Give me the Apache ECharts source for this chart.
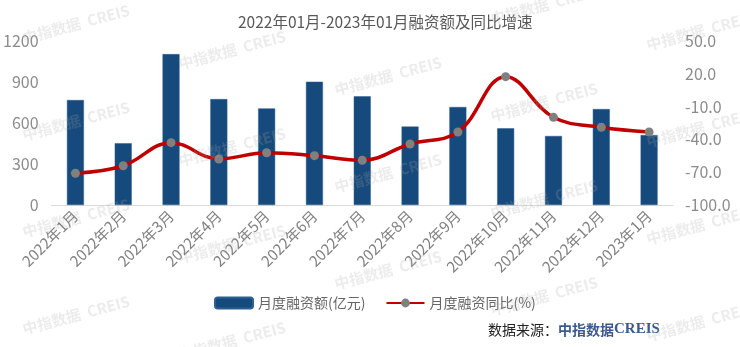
<!DOCTYPE html>
<html>
<head>
<meta charset="utf-8">
<script src="https://cdn.jsdelivr.net/npm/echarts@6/dist/echarts.min.js"></script>
<style>
html,body{margin:0;padding:0;background:#fff;}
#chart{width:740px;height:347px;}
</style>
</head>
<body>
<div id="chart"></div>
<script>
// ---- data ----
const categories = ['2022年1月','2022年2月','2022年3月','2022年4月','2022年5月','2022年6月','2022年7月','2022年8月','2022年9月','2022年10月','2022年11月','2022年12月','2023年1月'];
const financeAmount = [768, 452, 1104, 775, 707, 902, 795, 574, 717, 561, 505, 702, 512];
const yoyGrowth = [-71.0, -64.1, -43.0, -57.9, -52.2, -54.9, -59.1, -44.2, -33.2, 17.4, -19.8, -28.9, -33.2];
const leftTicks = [0, 300, 600, 900, 1200];
const rightTicks = [-100, -70, -40, -10, 20, 50];
const seriesNames = ['月度融资额(亿元)', '月度融资同比(%)'];
const titleText = '2022年01月-2023年01月融资额及同比增速';

const FONT = '"Noto Sans CJK SC", "Noto Sans", sans-serif';

// watermark texts (decoration)
const wm = [];
for (let c = 0; c < 5; c++) {
  for (let r = -1; r < 4; r++) {
    const x = 76 + 156 * c;
    const y = 24 + 26 * c + 97 * r;
    if (y < -20 || y > 370) continue;
    wm.push({
      type: 'text', x: x, y: y, rotation: 15 * Math.PI / 180, z: 100, silent: true,
      style: { text: '中指数据  CREIS', fill: 'rgba(170,170,170,0.22)', font: 'bold 15px ' + FONT, align: 'center', verticalAlign: 'middle' }
    });
  }
}

const chart = echarts.init(document.getElementById('chart'), null, {renderer: 'canvas'});
chart.setOption({
  animation: false,
  backgroundColor: '#fff',
  textStyle: { fontFamily: FONT },
  title: {
    text: titleText, left: 233, top: 9,
    textStyle: { fontSize: 15.5, fontWeight: 'normal', color: '#595959', fontFamily: FONT }
  },
  legend: {
    top: 291, left: 209, itemWidth: 38, itemHeight: 11, itemGap: 20,
    textStyle: { fontSize: 14, color: '#666666', fontFamily: FONT },
    data: seriesNames
  },
  grid: { left: 48, right: 67, top: 41, bottom: 142, containLabel: false },
  xAxis: {
    type: 'category', data: categories,
    axisTick: { show: false },
    axisLine: { lineStyle: { color: '#d9d9d9', width: 1 } },
    axisLabel: { rotate: 45, interval: 0, fontSize: 15, color: '#808080', margin: 8, fontFamily: FONT }
  },
  yAxis: [
    {
      type: 'value', min: leftTicks[0], max: leftTicks[leftTicks.length - 1], interval: 300,
      splitLine: { show: false }, axisLine: { show: false }, axisTick: { show: false },
      axisLabel: { customValues: leftTicks, fontSize: 16, color: '#8c8c8c', margin: 13, fontFamily: FONT,
        formatter: v => String(v) }
    },
    {
      type: 'value', position: 'right', min: rightTicks[0], max: rightTicks[rightTicks.length - 1],
      splitLine: { show: false }, axisLine: { show: false }, axisTick: { show: false },
      axisLabel: { customValues: rightTicks, fontSize: 16, color: '#8c8c8c', margin: 12, fontFamily: FONT,
        formatter: v => v.toFixed(1) }
    }
  ],
  series: [
    {
      name: seriesNames[0], type: 'bar', data: financeAmount, barWidth: 17,
      itemStyle: { color: '#174A7C', borderColor: '#2d5f8f', borderWidth: 0.5 }
    },
    {
      name: seriesNames[1], type: 'line', yAxisIndex: 1, data: yoyGrowth, smooth: 0.4,
      symbol: 'circle', symbolSize: 9,
      lineStyle: { color: '#C00000', width: 3.5 },
      itemStyle: { color: '#808080' }
    }
  ],
  graphic: wm.concat([
    {
      type: 'text', left: 488, top: 322, z: 50,
      style: {
        text: '{a|数据来源：}{b|中指数据}{c|CREIS}',
        rich: {
          a: { fontSize: 14, fill: '#222', fontFamily: FONT },
          b: { fontSize: 14, fill: '#3c5a8e', fontWeight: 'bold', fontFamily: FONT },
          c: { fontSize: 15, fill: '#3c5a8e', fontWeight: 'bold', fontFamily: '"Liberation Serif", serif' }
        }
      }
    }
  ])
});
</script>
</body>
</html>
